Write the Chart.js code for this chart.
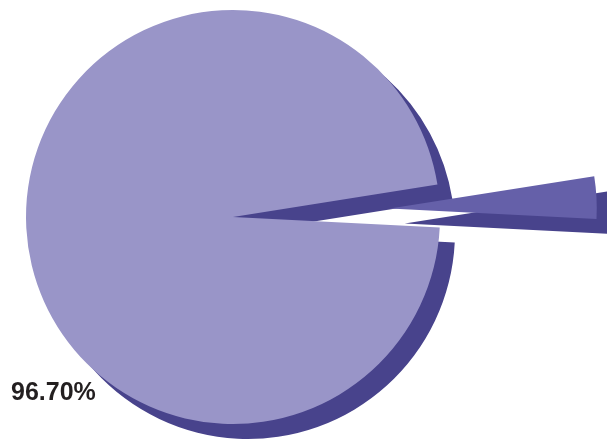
<!DOCTYPE html>
<html>
<head>
<meta charset="utf-8">
<style>
  html, body { margin: 0; padding: 0; background: #ffffff; }
  #wrap { width: 607px; height: 440px; position: relative; overflow: hidden; }
</style>
<script src="https://cdn.jsdelivr.net/npm/chart.js@4/dist/chart.umd.min.js"></script>
</head>
<body>
<div id="wrap"><canvas id="c" width="607" height="440"></canvas></div>
<script>
// ---- data ----
const categories = ['Minor', 'Major'];
const values = [3.30, 96.70];
const valueLabels = ['3.30%', '96.70%'];
const shownLabels = [false, true];
const explodePx = [157, 0];

// ---- styles ----
const faceColors = ['#6560A9', '#9995C8'];
const shadowColor = '#48438C';
const shadowDX = 15, shadowDY = 15;

const explodePlugin = {
  id: 'explode',
  afterDatasetUpdate(chart, args) {
    const meta = chart.getDatasetMeta(args.index);
    meta.data.forEach((arc, i) => {
      const d = explodePx[i] || 0;
      if (!d) return;
      const mid = (arc.startAngle + arc.endAngle) / 2;
      arc.x += Math.cos(mid) * d;
      arc.y += Math.sin(mid) * d;
    });
  }
};

const shadowPlugin = {
  id: 'shadow3d',
  beforeDatasetsDraw(chart) {
    const ctx = chart.ctx;
    const meta = chart.getDatasetMeta(0);
    ctx.save();
    ctx.fillStyle = shadowColor;
    meta.data.forEach(arc => {
      const x = arc.x + shadowDX, y = arc.y + shadowDY;
      ctx.beginPath();
      ctx.moveTo(x, y);
      ctx.arc(x, y, arc.outerRadius, arc.startAngle, arc.endAngle);
      ctx.closePath();
      ctx.fill();
    });
    ctx.restore();
  }
};

const labelPlugin = {
  id: 'pctLabels',
  afterDatasetsDraw(chart) {
    const ctx = chart.ctx;
    const meta = chart.getDatasetMeta(0);
    const big = meta.data[1];
    ctx.save();
    ctx.font = 'bold 25px "Liberation Sans", Arial, sans-serif';
    ctx.fillStyle = '#231F20';
    ctx.textAlign = 'left';
    ctx.textBaseline = 'alphabetic';
    valueLabels.forEach((t, i) => {
      if (!shownLabels[i]) return;
      const lx = big.x - big.outerRadius - 15;
      const ly = big.y + 183;
      ctx.fillText(t, lx, ly);
    });
    ctx.restore();
  }
};

new Chart(document.getElementById('c'), {
  type: 'pie',
  data: {
    labels: categories,
    datasets: [{
      data: values,
      backgroundColor: faceColors,
      borderWidth: 0,
      clip: false
    }]
  },
  options: {
    responsive: false,
    animation: false,
    rotation: 81,
    radius: 207,
    layout: { padding: { left: 0, right: 141, top: 0, bottom: 6 } },
    plugins: {
      legend: { display: false },
      tooltip: { enabled: false }
    }
  },
  plugins: [explodePlugin, shadowPlugin, labelPlugin]
});
</script>
</body>
</html>
